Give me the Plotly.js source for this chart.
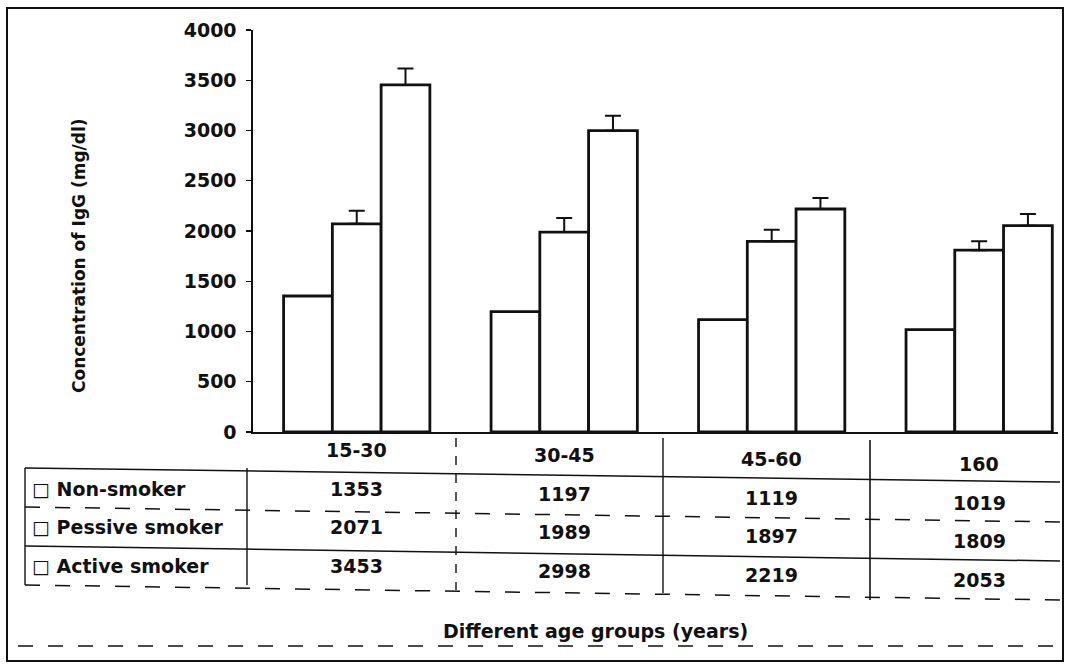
<!DOCTYPE html>
<html>
<head>
<meta charset="utf-8">
<script src="https://cdn.plot.ly/plotly-3.0.1.min.js"></script>
<style>
  html, body { margin: 0; padding: 0; background: #ffffff; }
  #chart { width: 1067px; height: 669px; }
</style>
</head>
<body>
<div id="chart"></div>
<script>
// ---- data ----
const categories = ['15-30', '30-45', '45-60', '160'];
const seriesNames = ['Non-smoker', 'Pessive smoker', 'Active smoker'];
const nonSmoker = [1353, 1197, 1119, 1019];
const passiveSmoker = [2071, 1989, 1897, 1809];
const activeSmoker = [3453, 2998, 2219, 2053];
const passiveErr = [130, 140, 115, 90];
const activeErr = [165, 150, 110, 115];
const yTickVals = [0, 500, 1000, 1500, 2000, 2500, 3000, 3500, 4000];
const yTitle = 'Concentration of IgG (mg/dl)';
const xTitle = 'Different age groups (years)';

// ---- layout geometry (pixels) ----
const W = 1067, H = 669;
const M = { l: 253, r: 9, t: 30, b: 237 };
const plotW = W - M.l - M.r, plotH = H - M.t - M.b;
const px2py = p => (H - M.b - p) / plotH;   // pixel y -> paper y
const px2px = p => (p - M.l) / plotW;       // pixel x -> paper x

const FONT = 'DejaVu Sans, Verdana, sans-serif';
const INK = '#111111';

function barTrace(name, vals, err) {
  const t = {
    type: 'bar', name: name, x: categories, y: vals,
    marker: { color: '#ffffff', line: { color: INK, width: 2.8 } },
    showlegend: false, hoverinfo: 'x+y+name'
  };
  if (err) {
    t.error_y = { type: 'data', symmetric: false, array: err,
      arrayminus: err.map(() => 0), color: INK, thickness: 2, width: 8 };
  }
  return t;
}

const data = [
  barTrace(seriesNames[0], nonSmoker, null),
  barTrace(seriesNames[1], passiveSmoker, passiveErr),
  barTrace(seriesNames[2], activeSmoker, activeErr)
];

// ---- table (annotations + shapes) ----
const headerPx = 450;
const rowPx = [489, 527, 566];          // row text centres
const skew = 4.5;                       // scan tilt per column (px)
const seriesVals = [nonSmoker, passiveSmoker, activeSmoker];
const cellFont = { family: FONT, size: 19, color: INK, weight: 'bold' };
const annotations = [];

categories.forEach((c, i) => {
  annotations.push({ x: i, xref: 'x', xanchor: 'center', y: px2py(headerPx + i * skew), yref: 'paper',
    yanchor: 'middle', text: c, showarrow: false, font: cellFont });
});
seriesVals.forEach((vals, r) => {
  vals.forEach((v, i) => {
    annotations.push({ x: i, xref: 'x', xanchor: 'center', y: px2py(rowPx[r] + i * skew), yref: 'paper',
      yanchor: 'middle', text: String(v), showarrow: false, font: cellFont });
  });
  annotations.push({ x: px2px(30), xref: 'paper', xanchor: 'left', y: px2py(rowPx[r]), yref: 'paper',
    yanchor: 'middle', text: '\u25A1 ' + seriesNames[r], showarrow: false, font: cellFont });
});
// axis titles
annotations.push({ x: px2px(595), xref: 'paper', xanchor: 'center', y: px2py(631), yref: 'paper',
  yanchor: 'middle', text: '<b>' + xTitle + '</b>', showarrow: false,
  font: { family: FONT, size: 19, color: INK } });
annotations.push({ x: px2px(79), xref: 'paper', xanchor: 'center', y: px2py(256), yref: 'paper',
  yanchor: 'middle', textangle: -90, text: '<b>' + yTitle + '</b>', showarrow: false,
  font: { family: FONT, size: 17, color: INK } });

const line = (x0, y0, x1, y1, w, dash) => ({
  type: 'line', xref: 'paper', yref: 'paper',
  x0: px2px(x0), y0: px2py(y0), x1: px2px(x1), y1: px2py(y1),
  line: { color: INK, width: w || 1.4, dash: dash || 'solid' }
});

const shapes = [
  // outer frame
  { type: 'rect', xref: 'paper', yref: 'paper', x0: px2px(7), y0: px2py(661), x1: px2px(1063), y1: px2py(8),
    line: { color: INK, width: 2 }, fillcolor: 'rgba(0,0,0,0)' },
  // table horizontal lines
  line(25, 468, 1060, 482, 1.5),
  line(25, 507, 1060, 522, 1.5, 'longdash'),
  line(25, 546, 1060, 561, 1.5),
  line(25, 585, 1060, 600, 1.5, 'longdash'),
  // row label box
  line(25, 468, 25, 585, 1.4),
  line(247, 468, 247, 585, 1.4),
  // column separators
  line(456, 438, 456, 590, 1.4, 'dash'),
  line(663, 438, 663, 593, 1.4),
  line(870, 440, 870, 600, 1.6),
  // dashed line below x title
  line(18, 646, 1060, 646, 1.5, 'longdash')
];

const layout = {
  width: W, height: H,
  margin: M,
  paper_bgcolor: '#ffffff', plot_bgcolor: '#ffffff',
  barmode: 'group', bargap: 0.295, bargroupgap: 0,
  font: { family: FONT, size: 15, color: INK },
  xaxis: {
    type: 'category', range: [-0.5, 3.38], autorange: false,
    showticklabels: false, ticks: '',
    showline: true, linecolor: INK, linewidth: 1.5, showgrid: false, zeroline: false,
    fixedrange: true
  },
  yaxis: {
    range: [0, 4000], autorange: false, tickvals: yTickVals, ticktext: yTickVals.map(String),
    ticks: 'outside', ticklen: 5, tickwidth: 1.4, tickcolor: INK, ticklabelstandoff: 6,
    showline: true, linecolor: INK, linewidth: 1.6, showgrid: false, zeroline: false,
    tickfont: { family: FONT, size: 19, color: INK, weight: 'bold' },
    automargin: false, fixedrange: true
  },
  annotations: annotations,
  shapes: shapes
};

Plotly.newPlot('chart', data, layout, { displayModeBar: false, staticPlot: true });
</script>
</body>
</html>
